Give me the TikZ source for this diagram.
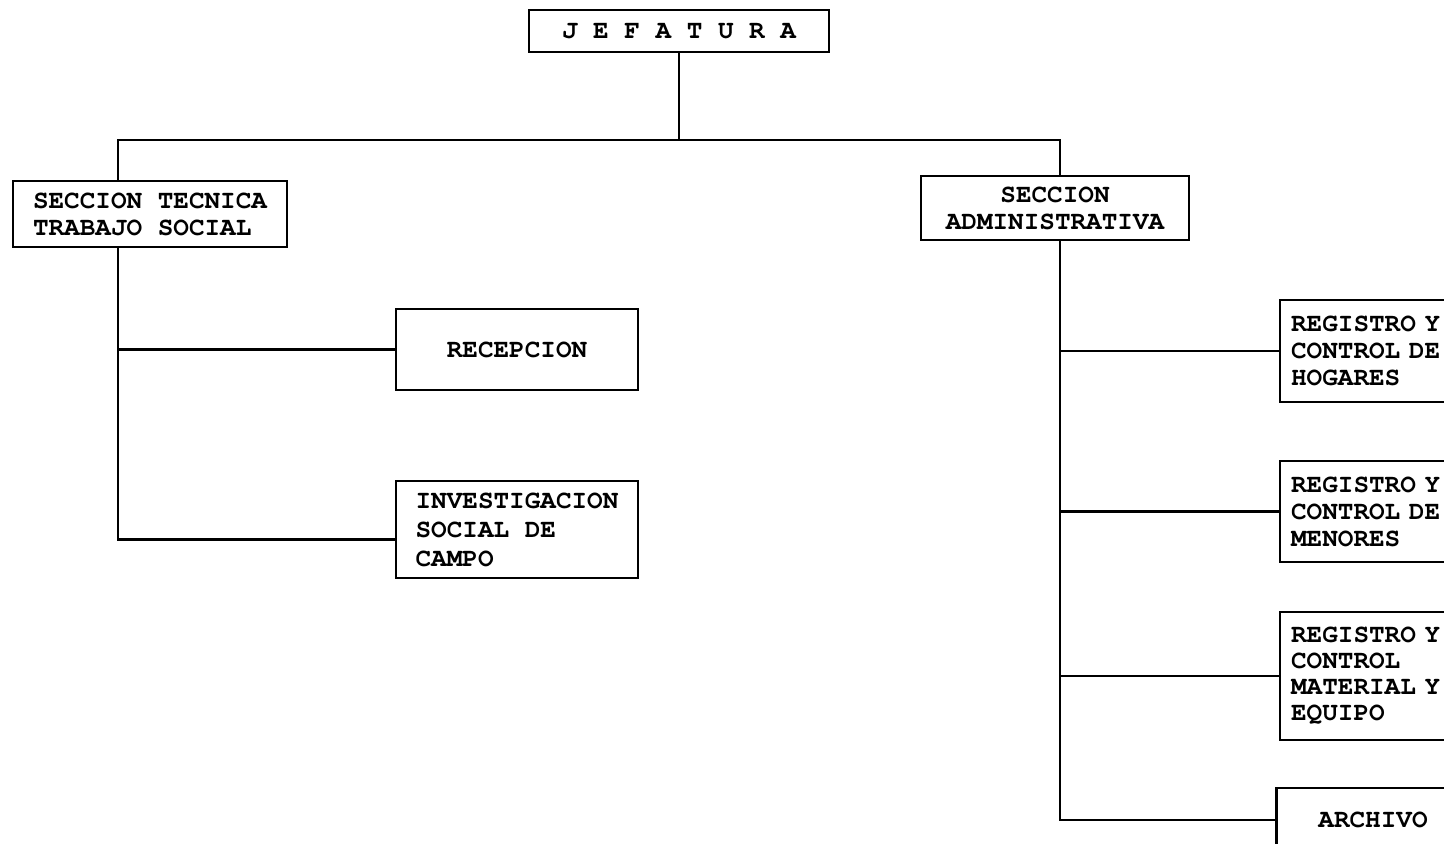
\documentclass[tikz,border=0pt]{standalone}
\usepackage{fontspec}
\setmonofont{texgyrecursor-bold.otf}
\usepackage{tikz}
\usetikzlibrary{calc, positioning}

\begin{document}
\begin{tikzpicture}[x = 0.5pt, y = -0.5pt,
		box/.style = {draw, line width = 1.1pt, inner sep = 0pt, font = \ttfamily\fontsize{13}{13.5}\selectfont},
		sidebox/.style = {box, anchor = west, align = left, text width = 90pt, inner xsep = 5.5pt},
		link/.style = {line width = 1.1pt}]
			\useasboundingbox (0,0) rectangle (1444,843);
			\fill[white] (0,0) rectangle (1444,843);
			\clip (0,0) rectangle (1444,843);

			% head and sections
			\node[box, minimum width = 150pt, minimum height = 21pt] (jef) at (679,31) {J E F A T U R A};
			\node[box, minimum width = 137pt, minimum height = 33pt, align = left] (tec) at (150,214) {SECCION TECNICA\\TRABAJO SOCIAL};
			\node[box, minimum width = 134pt, minimum height = 32pt, align = center] (adm) at (1055,208) {SECCION\\ADMINISTRATIVA};

			% left branch
			\node[box, minimum width = 121pt, minimum height = 40.5pt] (rec) at (517,349.5) {RECEPCION};
			\node[box, minimum width = 121pt, minimum height = 48.5pt, align = left, font = \ttfamily\fontsize{13}{14.5}\selectfont] (inv) at (517,529.5) {INVESTIGACION\\SOCIAL DE\\CAMPO};

			% right branch
			\node[sidebox, minimum height = 51pt] (hog) at (1279,351) {REGISTRO Y\\CONTROL DE\\HOGARES};
			\node[sidebox, minimum height = 50.5pt] (men) at (1279,511.5) {REGISTRO Y\\CONTROL DE\\MENORES};
			\node[sidebox, minimum height = 64pt, font = \ttfamily\fontsize{13}{13}\selectfont] (mat) at (1279,676) {REGISTRO Y\\CONTROL\\MATERIAL Y\\EQUIPO};
			\node[box, minimum width = 96.5pt, minimum height = 32pt] (arch) at (1373,820) {ARCHIVO};

			% connectors
			\coordinate (tl) at (118,140);
			\coordinate (tr) at (1060,140);
			\coordinate (ilink) at ([yshift = -5pt]inv.west);

			\begin{scope}[link]
				\draw (jef.south) -- (jef.south |- tl);
				\draw (tec.north -| tl) -- (tl) -- (tr) -- (adm.north -| tr);
				\draw (tec.south -| tl) -- (tl |- ilink) -- (ilink);
				\draw (tl |- rec.west) -- (rec.west);
				\draw (adm.south -| tr) -- (tr |- arch.west) -- (arch.west);
				\draw (tr |- hog.west) -- (hog.west);
				\draw (tr |- men.west) -- (men.west);
				\draw (tr |- mat.west) -- (mat.west);
			\end{scope}
		\end{tikzpicture}
\end{document}
